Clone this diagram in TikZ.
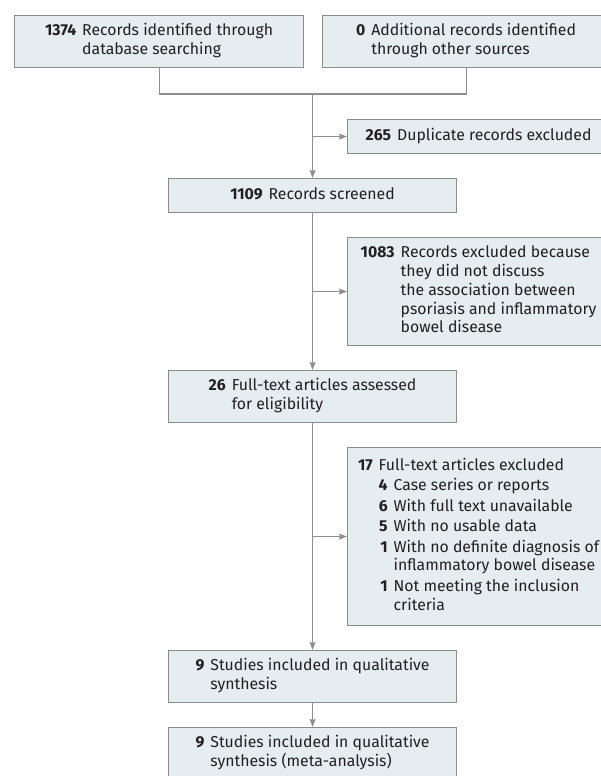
\documentclass[tikz,border=0pt]{standalone}
\usepackage{fontspec}
\setmainfont{Fira Sans}
\usetikzlibrary{arrows.meta}
\definecolor{boxfill}{HTML}{E5EDF1}
\definecolor{boxline}{HTML}{8C8C8C}
\definecolor{linkcol}{HTML}{8F8F8F}
\definecolor{txt}{HTML}{231F20}
\newcommand{\nb}[1]{\textbf{#1}}
\newcommand{\gp}{@{\hspace{6pt}}}
\tikzset{
  box/.style={draw=boxline, fill=boxfill, line width=1.1pt, inner sep=0pt,
    anchor=north west, text=txt,
    font=\fontsize{15.8}{18.8}\selectfont},
  link/.style={draw=linkcol, line width=1.1pt},
  arr/.style={link, -{Stealth[length=8pt,width=6pt,inset=1pt]}}
}
\begin{document}
\begin{tikzpicture}[x=1pt,y=-1pt]
\useasboundingbox (0,0) rectangle (601,776);
\clip (0,0) rectangle (601,776);
\node[box, minimum width=289pt, minimum height=52pt] (A) at (14,14.7)
  {\begin{tabular}{@{}r\gp l@{}}\nb{1374} & Records identified through\\ & database searching\end{tabular}};
\node[box, minimum width=287pt, minimum height=52pt] (B) at (322,14.7)
  {\begin{tabular}{@{}r\gp l@{}}\nb{0} & Additional records identified\\ & through other sources\end{tabular}};
\node[box, minimum width=262pt, minimum height=34pt] (C) at (347,119)
  {\begin{tabular}{@{}r\gp l@{}}\nb{265} & Duplicate records excluded\end{tabular}};
\node[box, minimum width=288pt, minimum height=34pt] (D) at (168,178)
  {\begin{tabular}{@{}r\gp l@{}}\nb{1109} & Records screened\end{tabular}};
\node[box, minimum width=262pt, minimum height=108pt] (E) at (347,237)
  {\begin{tabular}{@{}r\gp l@{}}\nb{1083} & Records excluded because\\ & they did not discuss\\ & the association between\\ & psoriasis and inflammatory\\ & bowel disease\end{tabular}};
\node[box, minimum width=288pt, minimum height=52pt] (F) at (168,370)
  {\begin{tabular}{@{}r\gp l@{}}\nb{26} & Full-text articles assessed\\ & for eligibility\end{tabular}};
\node[box, minimum width=262pt, minimum height=178pt] (G) at (347,447)
  {\begin{tabular}{@{}r\gp l@{}}\nb{17} & Full-text articles excluded\\[1.6pt]
   & \begin{tabular}[t]{@{}r\gp l@{}}\nb{4} & Case series or reports\\[1.6pt]
   \nb{6} & With full text unavailable\\[1.6pt]
   \nb{5} & With no usable data\\[1.6pt]
   \nb{1} & With no definite diagnosis of\\ & inflammatory bowel disease\\[1.6pt]
   \nb{1} & Not meeting the inclusion\\ & criteria\end{tabular}\end{tabular}};
\node[box, minimum width=288pt, minimum height=52pt] (H) at (168,650)
  {\begin{tabular}{@{}r\gp l@{}}\nb{9} & Studies included in qualitative\\ & synthesis\end{tabular}};
\node[box, minimum width=288pt, minimum height=52pt] (I) at (168,727)
  {\begin{tabular}{@{}r\gp l@{}}\nb{9} & Studies included in qualitative\\ & synthesis (meta-analysis)\end{tabular}};
\coordinate (J) at (D.north |- 0,94);
\draw[link] (A.south) |- (J) -| (B.south);
\draw[arr] (J) -- (D.north);
\draw[arr] (J |- C.west) -- (C.west);
\draw[arr] (D.south) -- (F.north);
\draw[arr] (D.south |- E.west) -- (E.west);
\draw[arr] (F.south) -- (H.north);
\draw[arr] (F.south |- G.west) -- (G.west);
\draw[arr] (H.south) -- (I.north);
\end{tikzpicture}
\end{document}
